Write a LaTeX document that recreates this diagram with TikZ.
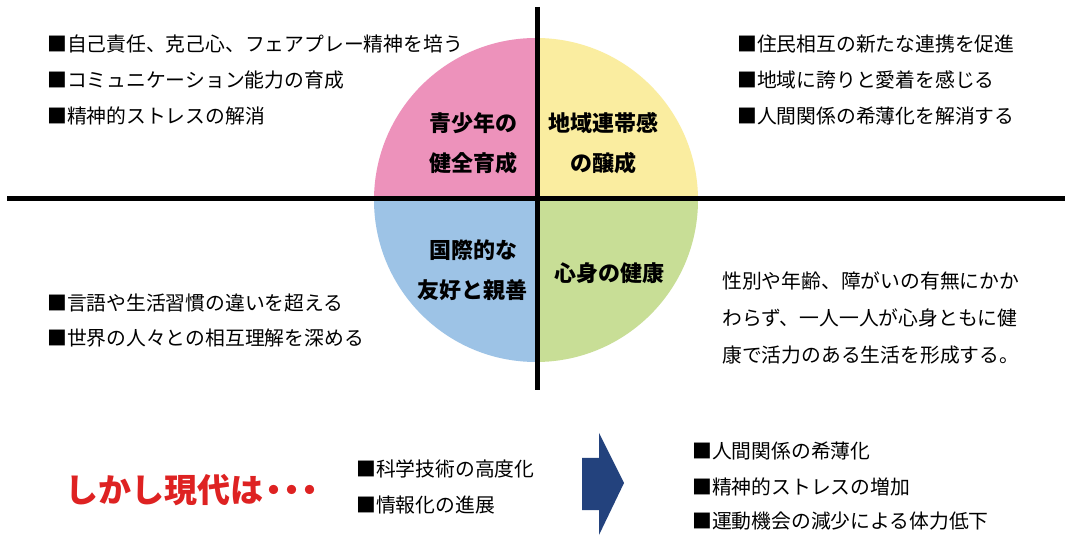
\documentclass[tikz,border=0pt]{standalone}
\usepackage{fontspec}
\setmainfont{Noto Sans CJK JP}
\definecolor{pinkq}{RGB}{237,146,187}
\definecolor{yellowq}{RGB}{250,237,160}
\definecolor{blueq}{RGB}{157,195,230}
\definecolor{greenq}{RGB}{200,222,150}
\definecolor{arrowblue}{RGB}{35,66,125}
\definecolor{redtxt}{RGB}{222,34,34}
\tikzset{
  txt/.style={anchor=west, inner sep=0pt, font=\fontsize{19.8}{20}\selectfont},
  quad/.style={inner sep=0pt, font=\fontsize{22}{22}\selectfont\bfseries},
  axis/.style={line width=5pt, black},
}
\begin{document}
\begin{tikzpicture}[x=1pt,y=-1pt]
\useasboundingbox[fill=white] (0,0) rectangle (1072,545);
% circle quadrants
\coordinate (c) at (536,200);
\begin{scope}
\clip (c) circle[radius=162pt];
\fill[pinkq] (370,30) rectangle (536,200);
\fill[yellowq] (536,30) rectangle (705,200);
\fill[blueq] (370,200) rectangle (536,370);
\fill[greenq] (536,200) rectangle (705,370);
\end{scope}
% axes
\coordinate (vt) at (537,7);
\coordinate (vb) at (537,390);
\coordinate (hl) at (7,199);
\coordinate (hr) at (1065,199);
\draw[axis] (hl) -- (hr);
\draw[axis] (vt) -- (vb);
% quadrant labels
\node[quad] (q1a) at (473,123) {青少年の};
\node[quad] (q1b) at (473,163) {健全育成};
\node[quad] (q2a) at (603,123) {地域連帯感};
\node[quad] (q2b) at (603,163) {の醸成};
\node[quad] (q3a) at (473,250) {国際的な};
\node[quad] (q3b) at (472,290) {友好と親善};
\node[quad] (q4) at (609,273) {心身の健康};
% top left list
\node[txt] (tl1) at (47,44) {■自己責任、克己心、フェアプレー精神を培う};
\node[txt] (tl2) at (47,80) {■コミュニケーション能力の育成};
\node[txt] (tl3) at (47,116) {■精神的ストレスの解消};
% top right list
\node[txt] (tr1) at (737,44) {■住民相互の新たな連携を促進};
\node[txt] (tr2) at (737,80) {■地域に誇りと愛着を感じる};
\node[txt] (tr3) at (737,116) {■人間関係の希薄化を解消する};
% bottom left list
\node[txt] (bl1) at (47,303) {■言語や生活習慣の違いを超える};
\node[txt] (bl2) at (47,338) {■世界の人々との相互理解を深める};
% right paragraph
\node[txt] (br1) at (722,281) {性別や年齢、障がいの有無にかか};
\node[txt] (br2) at (722,318) {わらず、一人一人が心身ともに健};
\node[txt] (br3) at (722,355) {康で活力のある生活を形成する。};
% bottom row
\node[anchor=west, inner sep=0pt, text=redtxt, font=\fontsize{33}{33}\selectfont\bfseries] (but) at (65,490) {しかし現代は\kern-6pt・\kern-15pt・\kern-15pt・};
\node[txt] (m1) at (356,469) {■科学技術の高度化};
\node[txt] (m2) at (356,505) {■情報化の進展};
\fill[arrowblue] (582,458) -- (599,458) -- (599,433) -- (624,483) -- (599,535) -- (599,510) -- (582,510) -- cycle;
\node[txt] (r1) at (692,451) {■人間関係の希薄化};
\node[txt] (r2) at (692,487) {■精神的ストレスの増加};
\node[txt] (r3) at (692,521) {■運動機会の減少による体力低下};
\end{tikzpicture}
\end{document}
